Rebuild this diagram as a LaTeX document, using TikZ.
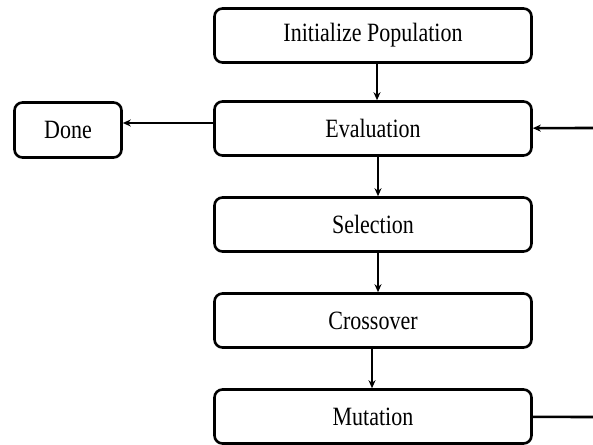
\documentclass[tikz,border=0pt]{standalone}
\usepackage{fontspec}
\setmainfont{Liberation Serif}
\usepackage{tikz}
\usetikzlibrary{calc, positioning, arrows.meta}

\newcommand{\tall}[1]{\scalebox{1}[1.2]{#1}}

\begin{document}
\begin{tikzpicture}[-,auto,x=1pt,y=-1pt,node distance=96pt,
                    line width=2.6pt,>={Stealth[length=8pt,width=7pt]},
                    main node/.style={draw,rounded corners=8pt,minimum width=317pt,
                      minimum height=54pt,font=\fontsize{22}{26}\selectfont}]

  \useasboundingbox (0,0) rectangle (593,444);

  \node[main node] (2) at (373,128.5) {\tall{Evaluation}};
  \node[main node] (1) [above of=2,node distance=93pt] {\tall{Initialize Population}};
  \node[main node] (3) [below of=2] {\tall{Selection}};
  \node[main node] (4) [below of=3] {\tall{Crossover}};
  \node[main node] (5) [below of=4] {\tall{Mutation}};
  \node[main node,minimum width=107pt,minimum height=55pt] (6) at (68,130) {\tall{Done}};

  \coordinate (in) at (596,128);
  \coordinate (out) at (596,417);

  \path[every node/.style={font=\sffamily}]
    ([xshift=4pt]1.south) edge[->] ([xshift=4pt]2.north)
    ([xshift=5pt]2.south) edge[->] ([xshift=5pt]3.north)
    ([xshift=5pt]3.south) edge[->] ([xshift=5pt]4.north)
    ([xshift=-1pt]4.south) edge[->] ([xshift=-1pt]5.north)
    ([yshift=5.5pt]2.west) edge[->] ([yshift=7pt]6.east)
    (in) edge[->] (2)
    (5) edge (out);
\end{tikzpicture}
\end{document}
